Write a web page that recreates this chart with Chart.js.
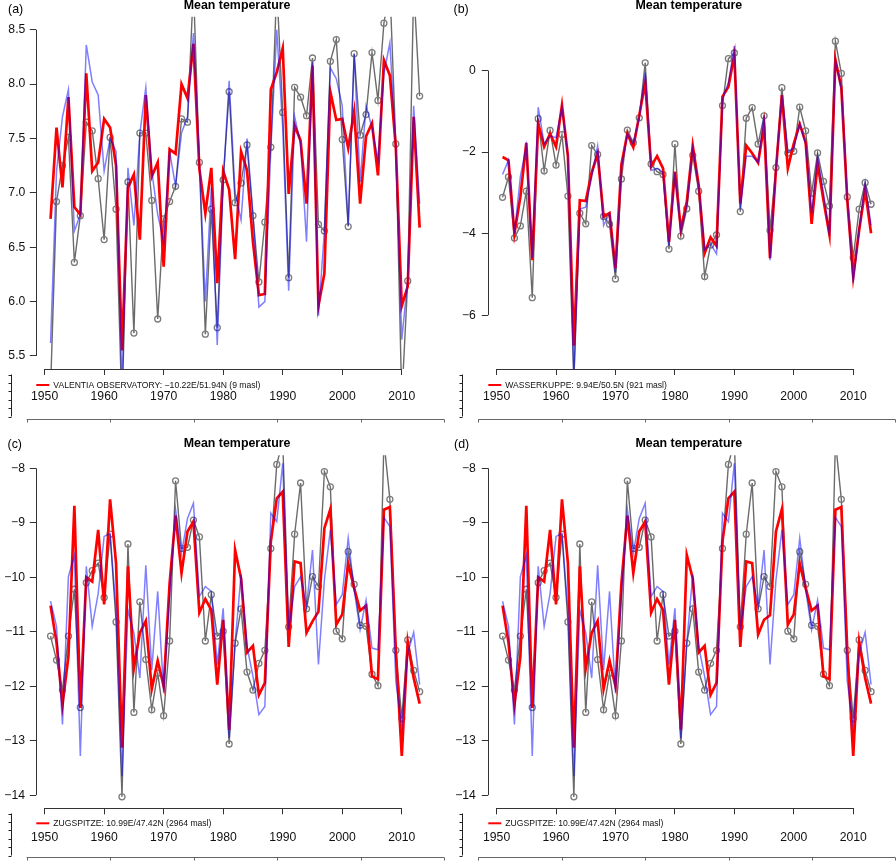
<!DOCTYPE html>
<html><head><meta charset="utf-8">
<script src="https://cdn.jsdelivr.net/npm/chart.js@4.4.1/dist/chart.umd.min.js"></script>
<style>
html,body{margin:0;padding:0;background:#fff;}
#wrap{position:relative;width:896px;height:864px;overflow:hidden;background:#fff;}
canvas{position:absolute;}
</style></head><body>
<div id="wrap">
<canvas id="ca" width="448" height="432" style="left:0px;top:0px"></canvas>
<canvas id="cb" width="448" height="432" style="left:448px;top:0px"></canvas>
<canvas id="cc" width="448" height="432" style="left:0px;top:432px"></canvas>
<canvas id="cd" width="448" height="432" style="left:448px;top:432px"></canvas>
</div>
<script>
const years = [1951,1952,1953,1954,1955,1956,1957,1958,1959,1960,
1961,1962,1963,1964,1965,1966,1967,1968,1969,1970,
1971,1972,1973,1974,1975,1976,1977,1978,1979,1980,
1981,1982,1983,1984,1985,1986,1987,1988,1989,1990,
1991,1992,1993,1994,1995,1996,1997,1998,1999,2000,
2001,2002,2003,2004,2005,2006,2007,2008,2009,2010,
2011,2012,2013];
const xTicks = [1950,1960,1970,1980,1990,2000,2010];
const yTicksA = [5.5,6.0,6.5,7.0,7.5,8.0,8.5];
const yTicksB = [-6,-4,-2,0];
const yTicksC = [-14,-13,-12,-11,-10,-9,-8];

// Panel (a) VALENTIA OBSERVATORY
const greyA = [5.2,6.92,7.25,7.51,6.36,6.79,7.65,7.57,7.13,6.57,
7.51,6.85,5.0,7.1,5.71,7.55,7.55,6.93,5.84,6.76,
6.92,7.06,7.68,7.65,8.9,7.28,5.70,6.85,5.76,7.12,
7.93,6.91,7.09,7.44,6.79,6.18,6.73,7.42,8.9,7.74,
6.22,7.97,7.88,7.71,8.24,6.71,6.65,8.21,8.41,7.49,
6.69,8.28,7.53,7.72,8.29,7.85,8.56,8.9,7.45,5.1,
6.19,8.9,7.89];
const blueA = [5.62,7.2,7.7,7.95,6.65,6.8,8.36,8.02,7.9,7.2,
7.5,7.38,5.2,7.23,6.7,7.55,7.97,7.2,6.8,6.55,
7.38,7.06,7.55,7.7,8.47,7.28,6.0,7.05,5.6,7.1,
8.03,7.0,6.75,7.5,6.8,5.95,6.0,7.4,8.5,7.6,
6.1,7.7,7.45,6.55,8.2,5.87,6.65,8.15,8.05,7.8,
6.7,8.28,7.1,7.8,7.6,7.3,8.1,8.38,7.4,5.65,
6.2,7.8,6.9];
const redA = [6.76,7.6,7.05,7.88,6.87,6.8,8.1,7.2,7.28,7.68,
7.6,7.25,5.55,7.05,7.17,6.57,7.9,7.15,7.28,6.32,
7.4,7.36,8.0,7.87,8.37,7.22,6.81,7.23,6.17,7.2,
7.03,6.39,7.38,7.21,6.55,6.06,6.07,7.95,8.11,8.33,
6.99,7.62,7.48,6.9,8.17,5.96,6.26,7.93,7.67,7.68,
7.41,7.75,6.9,7.52,7.64,7.16,8.22,8.08,7.42,5.96,
6.14,7.7,6.68];

// Panel (b) WASSERKUPPE
const greyB = [-3.11,-2.61,-4.11,-3.81,-2.96,-5.57,-1.18,-2.46,-1.47,-2.32,
-1.57,-3.08,-7.6,-3.50,-3.76,-1.84,-2.06,-3.58,-3.77,-5.11,
-2.66,-1.46,-1.77,-1.16,0.19,-2.29,-2.48,-2.55,-4.38,-1.80,
-4.06,-3.39,-2.08,-2.96,-5.05,-4.28,-4.03,-0.86,0.29,0.43,
-3.46,-1.17,-0.91,-1.80,-1.11,-3.92,-2.38,-0.42,-2.02,-1.98,
-0.90,-1.48,-3.01,-2.02,-2.72,-3.32,0.72,-0.07,-3.10,-4.59,
-3.40,-2.75,-3.28];
const blueB = [-2.55,-2.2,-4.0,-2.6,-1.85,-4.6,-0.9,-1.8,-1.6,-1.65,
-0.9,-2.1,-7.5,-3.4,-3.35,-2.6,-1.85,-3.8,-3.5,-4.95,
-2.4,-1.55,-1.8,-1.15,-0.05,-2.45,-2.4,-2.5,-4.3,-2.5,
-3.95,-3.3,-1.9,-2.85,-4.4,-4.25,-4.5,-0.7,-0.3,0.6,
-3.4,-2.1,-2.1,-2.25,-1.1,-4.65,-2.4,-0.6,-2.0,-1.9,
-1.3,-1.8,-3.5,-2.1,-3.0,-4.05,0.25,-0.45,-3.15,-5.2,
-3.9,-2.75,-3.8];
const redB = [-2.12,-2.2,-4.0,-3.1,-1.77,-4.65,-1.3,-1.87,-1.55,-1.87,
-0.85,-2.1,-6.75,-3.18,-3.2,-2.5,-2.05,-3.58,-3.5,-4.85,
-2.3,-1.55,-1.88,-1.1,-0.3,-2.35,-2.1,-2.4,-4.2,-2.48,
-3.89,-3.22,-1.84,-2.81,-4.48,-4.09,-4.30,-0.64,-0.40,0.38,
-3.26,-1.84,-2.03,-2.26,-1.34,-4.60,-2.44,-0.60,-2.40,-1.79,
-1.31,-1.77,-3.76,-2.29,-3.18,-4.03,0.27,-0.42,-3.18,-5.05,
-3.91,-2.93,-3.99];

// Panels (c) and (d) ZUGSPITZE
const greyC = [-11.08,-11.52,-12.07,-11.08,-10.22,-12.39,-10.10,-9.88,-9.74,-10.37,
-9.21,-10.82,-14.03,-9.39,-12.48,-10.45,-11.51,-12.43,-11.76,-12.54,
-11.17,-8.23,-9.47,-9.45,-8.95,-9.26,-11.17,-10.32,-11.08,-10.99,
-13.06,-11.21,-10.58,-11.74,-12.07,-11.58,-11.34,-9.47,-7.93,-7.5,
-10.91,-9.21,-8.27,-10.58,-9.99,-10.17,-8.06,-8.34,-10.99,-11.13,
-9.53,-10.13,-10.88,-10.90,-11.78,-11.99,-7.5,-8.57,-11.34,-12.59,
-11.15,-11.71,-12.10];
const blueC = [-10.44,-10.9,-12.7,-9.99,-9.6,-13.28,-9.8,-10.9,-10.3,-9.25,
-9.2,-10.6,-13.65,-10.6,-11.02,-11.85,-9.78,-11.7,-10.26,-12.12,
-10.35,-8.76,-9.56,-8.92,-8.64,-10.35,-10.17,-10.26,-11.6,-10.57,
-12.95,-11.2,-9.95,-11.27,-11.82,-12.52,-12.37,-8.82,-8.98,-7.91,
-10.96,-10.17,-9.99,-10.53,-9.5,-11.6,-10.05,-9.13,-10.5,-10.32,
-9.28,-10.23,-10.96,-10.42,-11.3,-11.33,-8.9,-9.07,-11.91,-12.73,
-11.39,-11.01,-11.97];
const redC = [-10.52,-11.2,-12.34,-11.45,-8.69,-12.40,-10.0,-10.08,-9.13,-10.5,
-8.57,-9.74,-13.13,-9.8,-11.67,-11.02,-10.8,-12.05,-11.53,-12.0,
-10.11,-8.87,-9.92,-9.16,-8.98,-10.65,-10.4,-10.6,-11.97,-10.78,
-12.8,-9.5,-10.02,-11.38,-11.26,-12.16,-11.94,-9.34,-8.55,-8.43,
-11.28,-9.71,-9.74,-11.02,-10.81,-10.63,-9.1,-8.75,-10.87,-10.68,
-9.75,-10.2,-10.61,-10.52,-11.82,-11.87,-8.76,-8.71,-11.34,-13.28,
-11.19,-11.85,-12.32];
const greyD = greyC.slice();
const blueD = blueC.slice();
const redD = [-10.52,-11.2,-12.34,-11.45,-8.69,-12.40,-10.0,-10.08,-9.13,-10.5,
-8.57,-9.74,-13.13,-9.8,-11.67,-11.02,-10.8,-12.05,-11.53,-12.0,
-10.11,-8.87,-9.92,-9.16,-8.98,-10.65,-10.4,-10.6,-11.97,-10.78,
-12.8,-9.59,-10.02,-11.38,-11.26,-12.16,-11.94,-9.34,-8.55,-8.43,
-11.28,-9.71,-9.74,-11.05,-10.78,-10.7,-9.16,-8.75,-10.87,-10.68,
-9.75,-10.2,-10.61,-10.52,-11.82,-11.87,-8.76,-8.71,-11.34,-13.28,
-11.19,-11.85,-12.32];

const titleText = "Mean temperature";
const FONT = "'Liberation Sans', Arial, Helvetica, sans-serif";
const X_MIN = 1948.52, X_MAX = 2015.48;

function fmt(v, dec) {
  const s = Math.abs(v).toFixed(dec);
  return (v < 0 ? '\u2212' : '') + s;
}

const decor = {
  id: 'decor',
  afterDraw(chart, args, o) {
    const ctx = chart.ctx, ca = chart.chartArea;
    const xs = chart.scales.x, ys = chart.scales.y;
    ctx.save();
    ctx.strokeStyle = '#333'; ctx.lineWidth = 1;
    const yt = o.yTicks;
    const ax = Math.round(ca.left) + 0.5;
    ctx.beginPath();
    ctx.moveTo(ax, ys.getPixelForValue(yt[0]));
    ctx.lineTo(ax, ys.getPixelForValue(yt[yt.length-1]));
    ctx.stroke();
    const ay = Math.round(ca.bottom) + 0.5;
    ctx.beginPath();
    ctx.moveTo(xs.getPixelForValue(xTicks[0]), ay);
    ctx.lineTo(xs.getPixelForValue(xTicks[xTicks.length-1]), ay);
    ctx.stroke();
    ctx.fillStyle = '#000';
    ctx.font = 'bold 12.4px ' + FONT;
    ctx.textAlign = 'center'; ctx.textBaseline = 'middle';
    ctx.fillText(titleText, (ca.left + ca.right) / 2 + 2, o.titleY);
    ctx.font = '12.4px ' + FONT;
    ctx.textAlign = 'left';
    ctx.fillText(o.letter, o.letterX, o.letterY);
    const ly = ca.bottom + o.legendDy;
    ctx.strokeStyle = '#ff0000'; ctx.lineWidth = 2;
    ctx.beginPath(); ctx.moveTo(ca.left + 0.5, ly); ctx.lineTo(ca.left + 13.5, ly); ctx.stroke();
    ctx.fillStyle = '#111';
    ctx.font = '8.6px ' + FONT;
    ctx.fillText(o.legend, ca.left + 17.5, ly + 0.5);
    ctx.strokeStyle = '#222'; ctx.lineWidth = 1;
    const vx = Math.round(o.vx) + 0.5;
    ctx.beginPath(); ctx.moveTo(vx, o.vy0); ctx.lineTo(vx, o.vy1); ctx.stroke();
    for (let i = 0; i < 6; i++) {
      const ty = Math.round(o.vy0 + i * (o.vy1 - o.vy0) / 5) + 0.5;
      ctx.beginPath(); ctx.moveTo(vx - 3, ty); ctx.lineTo(vx, ty); ctx.stroke();
    }
    ctx.strokeStyle = '#666';
    const hy = Math.round(o.hy) + 0.5;
    ctx.beginPath(); ctx.moveTo(o.hx0, hy); ctx.lineTo(o.hx1, hy); ctx.stroke();
    for (let i = 0; i < 6; i++) {
      const tx = Math.round(o.hx0 + i * (o.hx1 - o.hx0) / 5) + 0.5;
      ctx.beginPath(); ctx.moveTo(tx, hy); ctx.lineTo(tx, hy + 3); ctx.stroke();
    }
    ctx.restore();
  }
};

function pts(arr) { return years.map((y, i) => ({x: y, y: arr[i]})); }

function makePanel(id, c) {
  return new Chart(document.getElementById(id), {
    type: 'line',
    data: { datasets: [
      { data: pts(c.blue), borderColor: 'rgba(0,0,255,0.5)', borderWidth: 1.5, pointRadius: 0, fill: false, tension: 0 },
      { data: pts(c.red), borderColor: '#ff0000', borderWidth: 2.7, pointRadius: 0, fill: false, tension: 0 },
      { data: pts(c.grey), borderColor: '#6b6b6b', borderWidth: 1.4, pointRadius: 3, pointBorderColor: '#7c7c7c',
        pointBackgroundColor: 'rgba(0,0,0,0)', pointBorderWidth: 1.3, fill: false, tension: 0 }
    ]},
    options: {
      responsive: false, animation: false, events: [],
      layout: { padding: { left: 0, right: c.padR, top: c.padT, bottom: 0 } },
      plugins: { legend: { display: false }, tooltip: { enabled: false }, title: { display: false },
        decor: c.decor },
      scales: {
        x: {
          type: 'linear', min: X_MIN, max: X_MAX,
          afterBuildTicks: s => { s.ticks = xTicks.map(v => ({value: v})); },
          afterFit: s => { s.height = c.xH; },
          grid: { display: true, drawOnChartArea: false, drawTicks: true, tickLength: 6, color: '#333', lineWidth: 1 },
          border: { display: false },
          ticks: { font: { family: FONT, size: 12.2 }, color: '#111', maxRotation: 0, minRotation: 0,
            autoSkip: false, padding: c.xPad, callback: v => String(v) }
        },
        y: {
          type: 'linear', min: c.yMin, max: c.yMax,
          afterBuildTicks: s => { s.ticks = c.yTicks.map(v => ({value: v})); },
          afterFit: s => { s.width = c.left; },
          grid: { display: true, drawOnChartArea: false, drawTicks: true, tickLength: 6, color: '#333', lineWidth: 1 },
          border: { display: false },
          ticks: { font: { family: FONT, size: 12.2 }, color: '#111', padding: c.yPad,
            callback: v => fmt(v, c.dec) }
        }
      }
    },
    plugins: [decor]
  });
}

const topArt = { vy0: 374.5, vy1: 416.5, hy: 419 };
const botArt = { vy0: 381.5, vy1: 423.5, hy: 424.5 };

makePanel('ca', { grey: greyA, blue: blueA, red: redA, yMin: 5.38, yMax: 8.62, yTicks: yTicksA, dec: 1,
  left: 35.8, padR: 13.6, padT: 16.7, xH: 63, xPad: 14.8, yPad: 4.5,
  decor: Object.assign({ yTicks: yTicksA, titleY: 6, letter: '(a)', letterX: 8, letterY: 9.5, legendDy: 16,
    legend: 'VALENTIA OBSERVATORY: \u221210.22E/51.94N (9 masl)', vx: 10.7, hx0: 26.7, hx1: 444.3 }, topArt) });
makePanel('cb', { grey: greyB, blue: blueB, red: redB, yMin: -7.32, yMax: 1.32, yTicks: yTicksB, dec: 0,
  left: 39.8, padR: 10.2, padT: 16.7, xH: 63, xPad: 14.8, yPad: 6,
  decor: Object.assign({ yTicks: yTicksB, titleY: 6, letter: '(b)', letterX: 5.5, letterY: 9.5, legendDy: 16,
    legend: 'WASSERKUPPE: 9.94E/50.5N (921 masl)', vx: 13.7, hx0: 30.3, hx1: 447.3 }, topArt) });
makePanel('cc', { grey: greyC, blue: blueC, red: redC, yMin: -14.24, yMax: -7.76, yTicks: yTicksC, dec: 0,
  left: 35.8, padR: 13.6, padT: 23.2, xH: 55.7, xPad: 16.5, yPad: 4.8,
  decor: Object.assign({ yTicks: yTicksC, titleY: 12, letter: '(c)', letterX: 7.5, letterY: 13, legendDy: 15,
    legend: 'ZUGSPITZE: 10.99E/47.42N (2964 masl)', vx: 10.7, hx0: 26.7, hx1: 444.3 }, botArt) });
makePanel('cd', { grey: greyD, blue: blueD, red: redD, yMin: -14.24, yMax: -7.76, yTicks: yTicksC, dec: 0,
  left: 39.8, padR: 10.2, padT: 23.2, xH: 55.7, xPad: 16.5, yPad: 6,
  decor: Object.assign({ yTicks: yTicksC, titleY: 12, letter: '(d)', letterX: 6, letterY: 13, legendDy: 15,
    legend: 'ZUGSPITZE: 10.99E/47.42N (2964 masl)', vx: 13.7, hx0: 30.3, hx1: 447.3 }, botArt) });
</script>
</body></html>
